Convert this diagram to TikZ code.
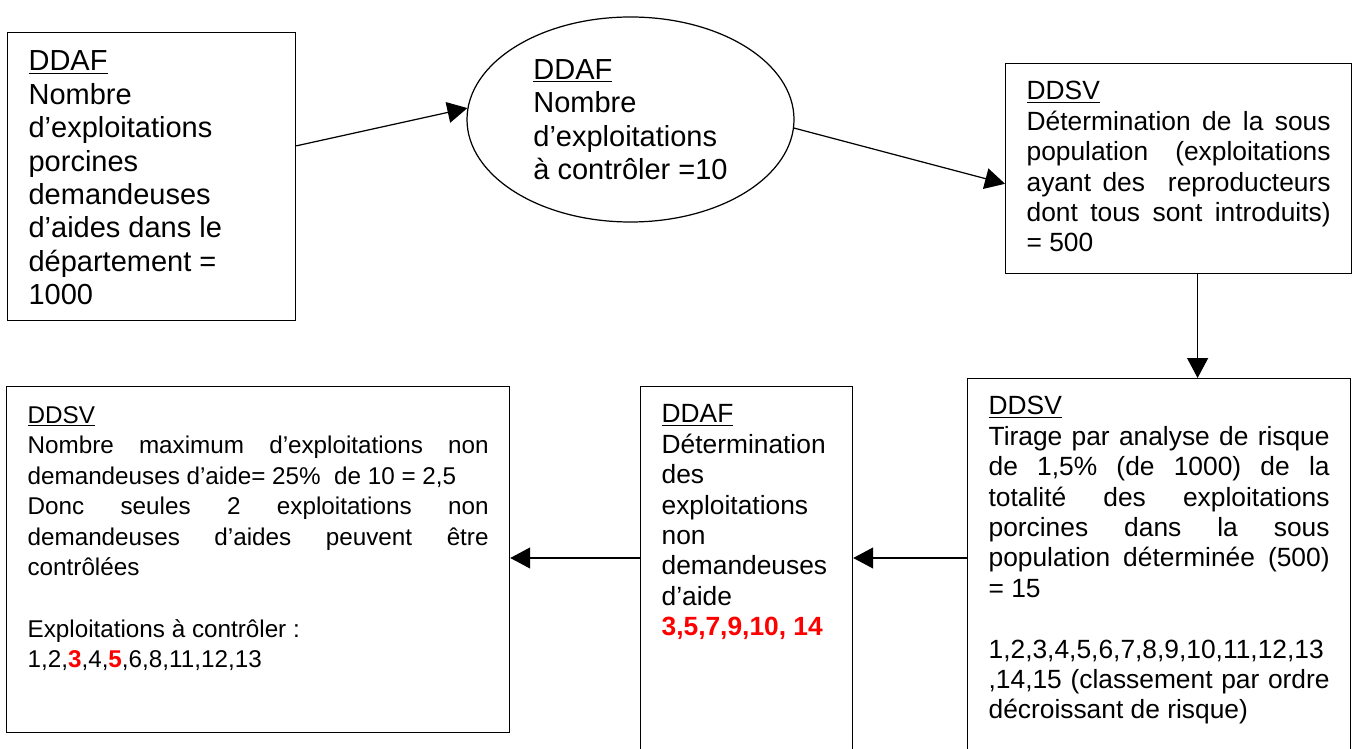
\documentclass[tikz,border=0pt]{standalone}
\usepackage{fontspec}
\setmainfont{Liberation Sans}
\usetikzlibrary{shapes.geometric,arrows.meta,calc}
\newlength{\pxu}
\setlength{\pxu}{0.02cm}
\newcommand{\redbold}[1]{\textcolor{red}{\textbf{#1}}}
\tikzset{
	box/.style={draw, line width=0.7pt, inner xsep=21\pxu, inner ysep=15\pxu, anchor=north west},
	arr/.style={line width=0.7pt, -{Triangle[length=0.4cm,width=0.42cm]}},
	bigtext/.style={font=\fontsize{16.5}{19}\selectfont},
	midtext/.style={font=\fontsize{15}{17.3}\selectfont},
	smalltext/.style={font=\fontsize{13.8}{17.4}\selectfont}
}
\begin{document}
\begin{tikzpicture}[x=0.02cm, y=-0.02cm]
	\useasboundingbox (0,0) rectangle (1352,749);

	% top row
	\node[box, bigtext] (n1) at (7,32) {\parbox[t][258\pxu][t]{246\pxu}{\raggedright\strut\underline{DDAF}\\
		Nombre\\ d’exploitations\\ porcines\\ demandeuses\\ d’aides dans le\\ département =\\ 1000}};
	\node[ellipse, draw, line width=0.7pt, minimum width=327\pxu, minimum height=205\pxu, inner sep=0pt, align=left, bigtext] (n2) at (630.5,119.5)
		{\underline{DDAF}\\ Nombre\\ d’exploitations\\ à contrôler =10};
	\node[box, midtext] (n3) at (1005,63) {\parbox[t][180\pxu][t]{304\pxu}{\strut\underline{DDSV}\\
		Détermination de la sous\linebreak population\ \ (exploitations\linebreak ayant des\ \ reproducteurs\linebreak dont tous sont introduits)\linebreak = 500}};

	% bottom row
	\node[box, midtext] (n6) at (967,378) {\parbox[t][362\pxu][t]{341\pxu}{\strut\underline{DDSV}\\
		Tirage par analyse de risque\linebreak de 1,5\% (de 1000) de la\linebreak totalité des exploitations\linebreak porcines dans la sous\linebreak population déterminée (500)\linebreak = 15\\[\baselineskip]
		1,2,3,4,5,6,7,8,9,10,11,12,13\linebreak ,14,15 (classement par ordre\linebreak décroissant de risque)}};
	\node[box, midtext] (n5) at (640,386) {\parbox[t][354\pxu][t]{170\pxu}{\raggedright\strut\underline{DDAF}\\
		Détermination\\ des\\ exploitations\\ non\\ demandeuses\\ d’aide\\ \redbold{3,5,7,9,10, 14}}};
	\node[box, smalltext] (n4) at (6,386) {\parbox[t][316\pxu][t]{461\pxu}{\strut\underline{DDSV}\\
		Nombre maximum d’exploitations non\linebreak demandeuses d’aide= 25\%\ \ de 10 = 2,5\\
		Donc seules 2 exploitations non\linebreak demandeuses d’aides peuvent être\linebreak contrôlées\\[\baselineskip]
		Exploitations à contrôler :\\ 1,2,\redbold{3},4,\redbold{5},6,8,11,12,13}};

	% connectors
	\draw[arr] (n1.12) -- (n2.176);
	\draw[arr] (n2.357) -- (n3.185);
	\coordinate (c3) at ($(n3.south)+(19,0)$);
	\draw[arr] (c3) -- (c3 |- n6.north);
	\coordinate (hy) at (0,558);
	\draw[arr] (n6.west |- hy) -- (n5.east |- hy);
	\draw[arr] (n5.west |- hy) -- (n4.east |- hy);
\end{tikzpicture}
\end{document}
